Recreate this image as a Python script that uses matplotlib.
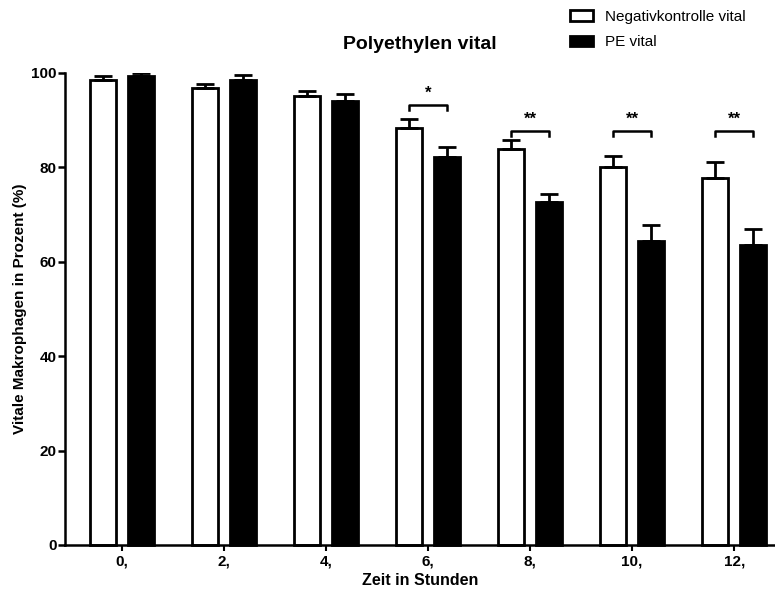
import matplotlib
matplotlib.use("Agg")
import matplotlib.pyplot as plt
import numpy as np

plt.rcParams['font.family'] = ['Liberation Sans', 'DejaVu Sans']

categories = ["0,", "2,", "4,", "6,", "8,", "10,", "12,"]
neg_vital = [98.6, 96.9, 95.1, 88.4, 83.9, 80.1, 77.8]
neg_err = [0.8, 0.8, 1.0, 1.9, 2.0, 2.4, 3.3]
pe_vital = [99.4, 98.5, 94.1, 82.1, 72.7, 64.5, 63.6]
pe_err = [0.5, 1.1, 1.5, 2.2, 1.7, 3.4, 3.3]
sig_labels = ["", "", "", "*", "**", "**", "**"]
bracket_y = [None, None, None, 93.2, 87.8, 87.8, 87.8]

fig = plt.figure(figsize=(7.75, 5.94), dpi=100)
ax = fig.add_axes([65/775, 49/594, 710/775, 472/594])

x = np.arange(len(categories))
off = 0.186
w = 0.255
ek = dict(ecolor='black', elinewidth=2.0, capsize=6.5, capthick=2.0)
ax.bar(x - off, neg_vital, w, color='white', edgecolor='black', linewidth=2.0,
       yerr=[np.zeros(len(x)), neg_err], error_kw=ek, label='Negativkontrolle vital',
       clip_on=False, zorder=2)
ax.bar(x + off, pe_vital, w, color='black', edgecolor='black', linewidth=2.0,
       yerr=[np.zeros(len(x)), pe_err], error_kw=ek, label='PE vital',
       clip_on=False, zorder=2)

for i, (lab, by) in enumerate(zip(sig_labels, bracket_y)):
    if not lab:
        continue
    xs = [i - off, i - off, i + off, i + off]
    ys = [by - 1.1, by, by, by - 1.1]
    ax.plot(xs, ys, color='black', lw=1.8, clip_on=False)
    ax.text(i, by + 0.9, lab, ha='center', va='bottom', fontsize=12, fontweight='bold')

ax.set_xlim(-0.56, 6.4)
ax.set_ylim(0, 100)
ax.set_xticks(x)
ax.set_xticklabels(categories, fontsize=11, fontweight='bold')
ax.set_yticks([0, 20, 40, 60, 80, 100])
ax.set_yticklabels(["0", "20", "40", "60", "80", "100"], fontsize=11, fontweight='bold')
ax.tick_params(axis='y', length=5, width=1.8, pad=1)
ax.tick_params(axis='x', length=4, width=1.5, pad=3)
for s in ['top', 'right']:
    ax.spines[s].set_visible(False)
for s in ['left', 'bottom']:
    ax.spines[s].set_linewidth(1.8)

ax.set_xlabel("Zeit in Stunden", fontsize=11.5, fontweight='bold', labelpad=3)
ax.set_ylabel("Vitale Makrophagen in Prozent (%)", fontsize=11, fontweight='bold', labelpad=3)
ax.set_title("Polyethylen vital", fontsize=14, fontweight='bold', pad=17)

leg = fig.legend(loc='upper left', bbox_to_anchor=(560/775, 1.0), frameon=False,
                 fontsize=11, handlelength=1.5, handleheight=0.7, labelspacing=0.75,
                 handletextpad=0.8, borderaxespad=0.25)

fig.savefig("out.png", dpi=100)
